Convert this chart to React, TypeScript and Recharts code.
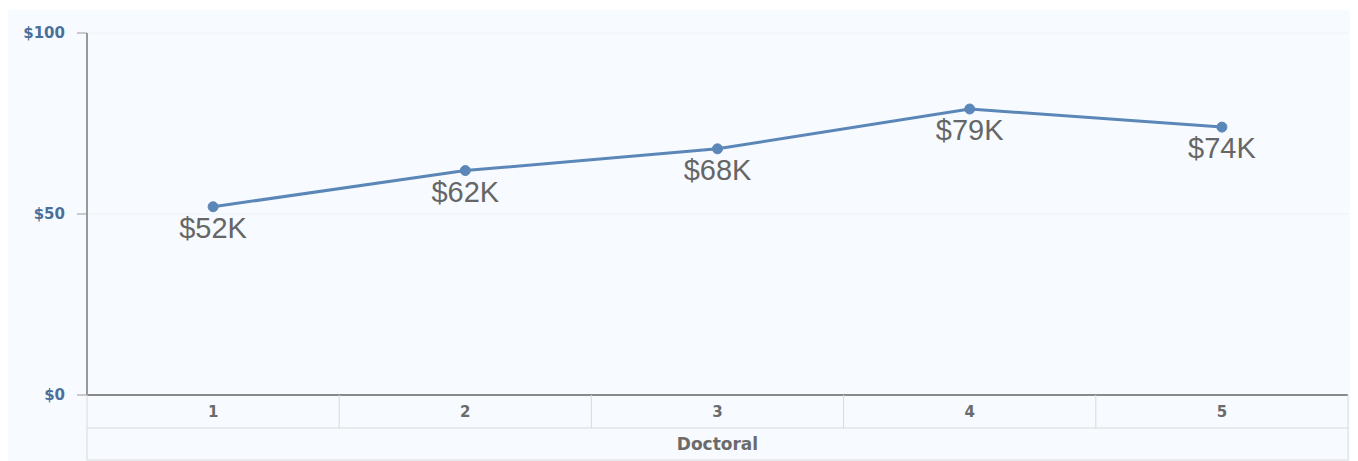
import { LineChart, Line, XAxis, YAxis, CartesianGrid, LabelList } from "recharts"

// Values (thousands of dollars)
const years = ["1", "2", "3", "4", "5"]
const salaries = [52, 62, 68, 79, 74]
const degree = "Doctoral"
const yTicks = [0, 50, 100]

const data = years.map((year, i) => ({ year, salary: salaries[i], degree }))

const W = 1350
const H = 451
const PLOT_L = 79
const PLOT_R = 1340
const PLOT_B = 385
const ROW = 33
const BAND = (PLOT_R - PLOT_L) / years.length
const BORDER = "#dadada"
const LINE_COLOR = "#5b87b8"
const AXIS_FONT = "'DejaVu Sans', Verdana, sans-serif"

function YearTick(props: any) {
  const { x, payload, index } = props
  const left = x - BAND / 2
  return (
    <g>
      {index === 0 && <line x1={left} y1={PLOT_B} x2={left} y2={PLOT_B + ROW} stroke={BORDER} />}
      <line x1={left + BAND} y1={PLOT_B} x2={left + BAND} y2={PLOT_B + ROW} stroke={BORDER} />
      <text x={x} y={PLOT_B + 22} textAnchor="middle" fontSize={15} fontWeight="bold" fill="#6b6b6b" fontFamily={AXIS_FONT}>
        {payload.value}
      </text>
    </g>
  )
}

function DegreeTick(props: any) {
  const { payload, index } = props
  if (index !== 0) return <g />
  return (
    <g>
      <rect x={PLOT_L} y={PLOT_B + ROW} width={PLOT_R - PLOT_L} height={ROW - 1} fill="none" stroke={BORDER} />
      <text x={(PLOT_L + PLOT_R) / 2} y={PLOT_B + ROW + 22} textAnchor="middle" fontSize={17} fontWeight="bold" fill="#6b6b6b" fontFamily={AXIS_FONT}>
        {payload.value}
      </text>
    </g>
  )
}

function ValueLabel(props: any) {
  const { x, y, value } = props
  return (
    <text x={x} y={y + 31} textAnchor="middle" fontSize={29} fill="#666">
      {`$${value}K`}
    </text>
  )
}

export default function App() {
  const pad = { left: BAND / 2, right: BAND / 2 }
  return (
    <div style={{ marginTop: 2, width: W, height: H, background: "#f7fbff", fontFamily: "'Liberation Sans', Arial, sans-serif" }}>
      <LineChart width={W} height={H} data={data} margin={{ top: 23, right: W - PLOT_R, left: 0, bottom: 0 }}>
        <CartesianGrid vertical={false} stroke="#edf2f8" />
        <XAxis
          dataKey="year"
          height={ROW}
          interval={0}
          padding={pad}
          tickLine={false}
          axisLine={{ stroke: "#8a8a8a", strokeWidth: 2 }}
          tick={<YearTick />}
        />
        <XAxis
          dataKey="degree"
          xAxisId="degree"
          height={ROW}
          interval={0}
          padding={pad}
          tickLine={false}
          axisLine={false}
          tick={<DegreeTick />}
        />
        <YAxis
          width={PLOT_L}
          domain={[0, 100]}
          ticks={yTicks}
          tickFormatter={(v: number) => `$${v}`}
          tickSize={10}
          tickMargin={12}
          tickLine={{ stroke: "#999" }}
          axisLine={{ stroke: "#999", strokeWidth: 2 }}
          tick={{ fill: "#4a6f9b", fontSize: 15, fontWeight: "bold", fontFamily: AXIS_FONT }}
        />
        <Line
          type="linear"
          dataKey="salary"
          stroke={LINE_COLOR}
          strokeWidth={3}
          dot={{ r: 5, fill: LINE_COLOR, stroke: LINE_COLOR, strokeWidth: 1 }}
          activeDot={false}
          isAnimationActive={false}
        >
          <LabelList dataKey="salary" content={<ValueLabel />} />
        </Line>
      </LineChart>
    </div>
  )
}
